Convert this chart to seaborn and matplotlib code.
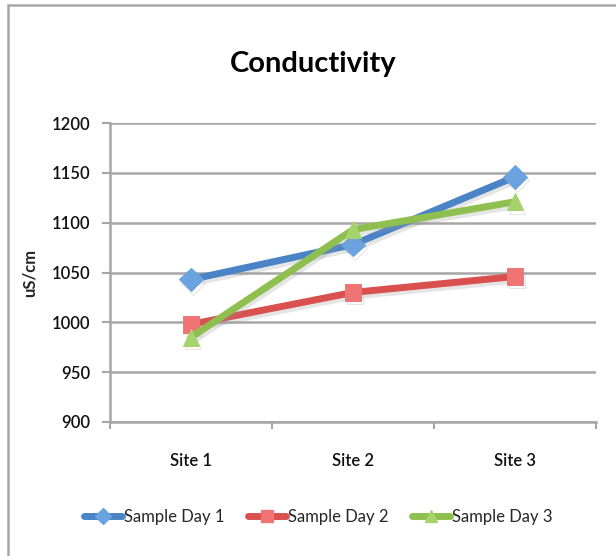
import matplotlib
matplotlib.use("Agg")
import matplotlib.pyplot as plt
import matplotlib.patheffects as pe
from matplotlib.lines import Line2D
from matplotlib.patches import Rectangle
import seaborn as sns
import pandas as pd

sites = ["Site 1", "Site 2", "Site 3"]
series_names = ["Sample Day 1", "Sample Day 2", "Sample Day 3"]
day1 = [1043, 1078, 1146]
day2 = [998, 1030, 1046]
day3 = [985, 1093, 1121]
y_ticks = [900, 950, 1000, 1050, 1100, 1150, 1200]

line_colors = ["#4a84c6", "#d9504e", "#8fc04f"]
marker_faces = ["#6aa3e0", "#f07474", "#a6d46c"]
marker_shapes = ["D", "s", "^"]

df = pd.DataFrame({
    "Site": sites * 3,
    "Value": day1 + day2 + day3,
    "Series": [n for n in series_names for _ in sites],
})

sns.set_theme(style="white")
plt.rcParams["font.family"] = ["Lato", "DejaVu Sans"]

fig = plt.figure(figsize=(6.16, 5.56), dpi=100)
ax = fig.add_axes([110 / 616, 1 - 422 / 556, 486 / 616, 299 / 556])

shadow = [pe.SimpleLineShadow(offset=(1.5, -2.5), shadow_color="#999999", alpha=0.25), pe.Normal()]

sns.lineplot(
    data=df, x="Site", y="Value", hue="Series", style="Series",
    palette=line_colors, markers=marker_shapes, dashes=False,
    linewidth=5, markersize=12, ax=ax, legend=False, sort=False,
)
for line, face in zip(ax.get_lines(), marker_faces):
    line.set_markerfacecolor(face)
    line.set_markeredgecolor(face)
    line.set_path_effects(shadow)

ax.set_ylim(900, 1200)
ax.set_yticks(y_ticks)
ax.set_xlim(-0.5, 2.5)
ax.set_xticks(range(len(sites)))
ax.set_xticklabels(sites)
ax.set_xticks([-0.5, 0.5, 1.5, 2.5], minor=True)
ax.tick_params(axis="x", which="major", length=0, pad=22, labelsize=12, colors="#111111")
ax.tick_params(axis="x", which="minor", length=5, width=1.5, color="#a6a6a6", direction="out", bottom=True)
ax.tick_params(axis="y", length=6, width=1.5, color="#a6a6a6", direction="out", left=True, pad=8, labelsize=12, labelcolor="#111111")
for lbl in ax.get_xticklabels() + ax.get_yticklabels():
    lbl.set_fontweight("semibold")
ax.yaxis.grid(True, color="#a6a6a6", linewidth=1.8)
ax.set_axisbelow(True)
for side in ["top", "right"]:
    ax.spines[side].set_visible(False)
for side in ["left", "bottom"]:
    ax.spines[side].set_color("#a6a6a6")
    ax.spines[side].set_linewidth(1.8)
ax.set_xlabel("")
ax.set_ylabel("uS/cm", fontsize=12, fontweight="bold", labelpad=10)

fig.text(313 / 616, 1 - 64 / 556, "Conductivity", ha="center", va="center",
         fontsize=21, fontweight="bold", color="#000000")

handles = [
    Line2D([0], [0], color=c, linewidth=5, marker=m, markersize=8,
           markerfacecolor=f, markeredgecolor=f)
    for c, f, m in zip(line_colors, marker_faces, marker_shapes)
]
fig.legend(handles, series_names, loc="center", bbox_to_anchor=(318 / 616, 1 - 517 / 556),
           ncol=3, frameon=False, fontsize=12, handlelength=2.3, handletextpad=0.1,
           columnspacing=1.4)

fig.patches.append(Rectangle((8 / 616, -0.1), 1.2, 1 - 5 / 556 + 0.1, transform=fig.transFigure,
                             fill=False, edgecolor="#a6a6a6", linewidth=1.8))

fig.savefig("out.png", dpi=100)
